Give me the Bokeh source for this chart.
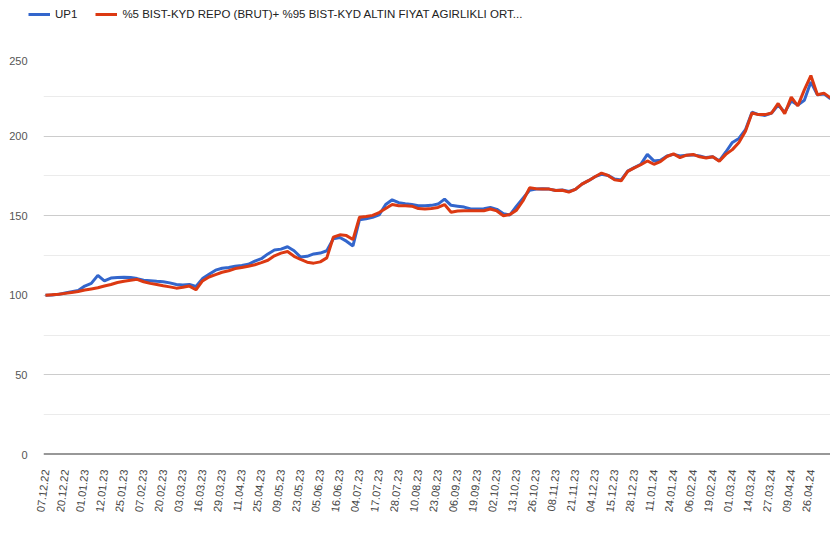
from bokeh.plotting import figure
from bokeh.layouts import column
from bokeh.models import ColumnDataSource, Range1d, FixedTicker, Legend, LegendItem, Span
from bokeh.embed import file_html
from bokeh.resources import INLINE

# Tick labels (every 3rd sample)
date_labels = ["07.12.22", "20.12.22", "01.01.23", "12.01.23", "25.01.23", "07.02.23", "20.02.23",
               "03.03.23", "16.03.23", "29.03.23", "11.04.23", "25.04.23", "09.05.23", "23.05.23",
               "05.06.23", "16.06.23", "04.07.23", "17.07.23", "28.07.23", "10.08.23", "23.08.23",
               "06.09.23", "19.09.23", "02.10.23", "13.10.23", "26.10.23", "08.11.23", "21.11.23",
               "04.12.23", "15.12.23", "28.12.23", "11.01.24", "24.01.24", "06.02.24", "19.02.24",
               "01.03.24", "14.03.24", "27.03.24", "09.04.24", "26.04.24"]

up1 = [100, 100.2, 100.6, 101.5, 102.3, 103, 105.8, 107.5, 112.5, 109,
       110.8, 111.2, 111.3, 111.2, 110.5, 109.5, 109.2, 108.8, 108.5, 107.8,
       106.8, 106.5, 106.8, 105.5, 110.5, 113.2, 115.8, 117, 117.5, 118.2,
       118.8, 119.5, 121.5, 123, 126, 128.5, 129, 130.5, 128, 124,
       124.5, 126, 126.5, 128, 135.5, 136.3, 134, 131, 147.5, 148,
       149, 150.5, 157, 160, 158.2, 157.5, 157, 156.3, 156.3, 156.5,
       157.3, 160.4, 156.5, 156, 155.4, 154.2, 154.2, 154.4, 155.2, 154,
       151.2, 150.5, 156, 161, 166, 166.7, 167, 166.7, 165.8, 166.2,
       165.2, 166.5, 169.8, 172, 174.5, 176, 175.3, 173, 172.5, 178,
       180.2, 182.3, 188.5, 184.4, 184.8, 187.5, 188.5, 187.5, 188, 188.2,
       187.5, 186.5, 187, 184.5, 190, 196, 198.5, 204, 215, 213.5,
       213, 214.5, 219.5, 215, 222, 219.5, 222.5, 234, 226, 226.5,
       223.5]

benchmark = [100, 100.3, 100.6, 101.2, 101.8, 102.4, 103.3, 104, 104.7, 105.8,
             106.8, 108, 108.8, 109.4, 110, 108.5, 107.5, 106.8, 106, 105.3,
             104.5, 105, 105.8, 103.5, 109, 111.5, 113, 114.5, 115.4, 116.8,
             117.5, 118.2, 119.2, 120.5, 122, 124.8, 126.5, 127.5, 124.5, 122.5,
             120.8, 120.2, 121, 123.5, 136.5, 138, 137.5, 135, 149, 149.5,
             150.2, 152, 154.5, 157, 156.3, 156.3, 156, 154.5, 154.2, 154.5,
             155.2, 157, 152.2, 153, 153.1, 153.1, 153.1, 153.1, 154.2, 153,
             150, 150.8, 153.5, 159.4, 167.5, 167, 166.7, 166.7, 165.8, 166,
             164.8, 166.5, 169.8, 172, 174.5, 176.8, 175.3, 172.5, 171.9, 177.8,
             180, 182, 184.4, 182.3, 184, 187.2, 188.8, 186.5, 188, 188.5,
             187, 186.3, 187, 184.2, 188.5, 191.5, 196, 203, 214.5, 213.5,
             213.5, 214.5, 220.5, 214, 224.5, 219, 229, 238, 226, 227,
             224]

y_ticks = [0, 50, 100, 150, 200, 250]
y_minor = [25, 75, 125, 175, 225]

series_names = ["UP1", "%5 BIST-KYD REPO (BRUT)+ %95 BIST-KYD ALTIN FIYAT AGIRLIKLI ORT..."]
series_colors = ["#3366cc", "#dc3912"]

idx = list(range(len(up1)))
src = ColumnDataSource(data=dict(x=idx, up1=up1, bench=benchmark))

# ---- legend strip (top); its ranges keep the data out of view ----
leg = figure(width=830, height=56, output_backend="svg", toolbar_location=None,
             x_axis_location=None, y_axis_location=None,
             x_range=Range1d(0, 1), y_range=Range1d(0, 1), min_border=0)
leg.frame_align = False
leg.outline_line_color = None
leg.xgrid.grid_line_color = None
leg.ygrid.grid_line_color = None
d1 = leg.line("x", "up1", source=src, line_color=series_colors[0], line_width=3)
d2 = leg.line("x", "bench", source=src, line_color=series_colors[1], line_width=3)
legend = Legend(items=[LegendItem(label=series_names[0], renderers=[d1]),
                       LegendItem(label=series_names[1], renderers=[d2])],
                location=(28, 32), orientation="horizontal",
                glyph_width=22, label_standoff=5, spacing=18,
                padding=0, margin=0, border_line_color=None, background_fill_alpha=0,
                label_text_font="Liberation Sans", label_text_font_size="11.5px",
                label_text_color="#222222")
leg.add_layout(legend, "center")

# ---- main chart ----
p = figure(width=830, height=477, output_backend="svg", toolbar_location=None,
           x_range=Range1d(-0.306, len(up1) - 1), y_range=Range1d(0, 250),
           min_border_left=43, min_border_right=0, min_border_top=0, min_border_bottom=79)
p.frame_align = False
p.outline_line_color = None
p.background_fill_color = "white"
p.border_fill_color = "white"

r1 = p.line("x", "up1", source=src, line_color=series_colors[0], line_width=3)
r2 = p.line("x", "bench", source=src, line_color=series_colors[1], line_width=3)

# Y axis
p.yaxis.ticker = FixedTicker(ticks=y_ticks, minor_ticks=y_minor)
p.yaxis.axis_line_color = None
p.yaxis.major_tick_line_color = None
p.yaxis.minor_tick_line_color = None
p.yaxis.major_label_standoff = 10
p.yaxis.major_label_text_font = "Liberation Sans"
p.yaxis.major_label_text_font_size = "11px"
p.yaxis.major_label_text_color = "#555555"

p.ygrid.grid_line_color = "#cccccc"
p.ygrid.grid_line_width = 1
p.ygrid.minor_grid_line_color = "#ebebeb"
p.xgrid.grid_line_color = None

# X axis
x_ticks = list(range(0, 3 * len(date_labels), 3))
p.xaxis.ticker = FixedTicker(ticks=x_ticks)
p.xaxis.major_label_overrides = {t: lab for t, lab in zip(x_ticks, date_labels)}
p.xaxis.major_label_orientation = 1.45
p.xaxis.axis_line_color = None
p.xaxis.major_tick_line_color = None
p.xaxis.minor_tick_line_color = None
p.xaxis.major_label_standoff = 9
p.xaxis.major_label_text_font = "Liberation Sans"
p.xaxis.major_label_text_font_size = "11px"
p.xaxis.major_label_text_color = "#444444"

p.add_layout(Span(location=0, dimension="width", line_color="#333333", line_width=2))

layout = column(leg, p, spacing=0)
open("out.html", "w").write(file_html(layout, INLINE))
